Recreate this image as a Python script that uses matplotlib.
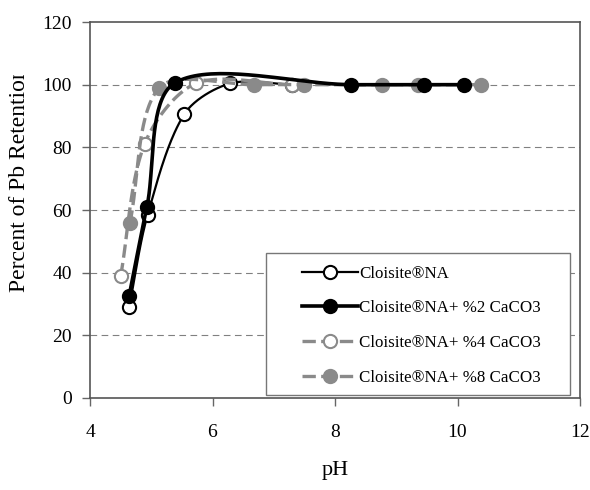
import numpy as np
import matplotlib
matplotlib.use("Agg")
import matplotlib.pyplot as plt
from matplotlib.patches import Rectangle
from matplotlib.transforms import Bbox

plt.rcParams['font.family'] = ['Liberation Serif', 'DejaVu Serif']

# ---- data ----
labels = ["Cloisite®NA", "Cloisite®NA+ %2 CaCO3",
          "Cloisite®NA+ %4 CaCO3", "Cloisite®NA+ %8 CaCO3"]
ph_na = [4.64, 4.94, 5.54, 6.29, 7.30]
ret_na = [29.0, 58.4, 90.6, 100.4, 100.0]
ph_ca2 = [4.64, 4.93, 5.38, 8.26, 9.45, 10.10]
ret_ca2 = [32.7, 61.1, 100.5, 100.0, 100.0, 100.0]
ph_ca4 = [4.50, 4.89, 5.73, 7.30]
ret_ca4 = [38.9, 81.0, 100.4, 100.0]
ph_ca8 = [4.65, 5.13, 6.68, 7.50, 8.77, 9.36, 10.38]
ret_ca8 = [55.7, 99.0, 100.0, 100.0, 100.0, 100.0, 100.0]
xticks = [4, 6, 8, 10, 12]
yticks = [0, 20, 40, 60, 80, 100, 120]


def smooth(ax, x, y, n=40, tension=0.31):
    """Smoothed line through the points (cubic Bezier, chord-weighted
    tangents computed in display space)."""
    pts = ax.transData.transform(np.column_stack([x, y]).astype(float))
    out = []
    m = len(pts)
    for i in range(m - 1):
        p0 = pts[i - 1] if i > 0 else pts[i]
        p1, p2 = pts[i], pts[i + 1]
        p3 = pts[i + 2] if i + 2 < m else pts[i + 1]
        d01 = np.hypot(*(p1 - p0))
        d12 = np.hypot(*(p2 - p1))
        d23 = np.hypot(*(p3 - p2))
        f1 = d12 / (d01 + d12) if d01 + d12 > 0 else 0
        f2 = d12 / (d12 + d23) if d12 + d23 > 0 else 0
        c1 = p1 + tension * (p2 - p0) * f1
        c2 = p2 - tension * (p3 - p1) * f2
        t = np.linspace(0, 1, n)[:, None]
        seg = ((1 - t) ** 3) * p1 + 3 * t * (1 - t) ** 2 * c1 \
            + 3 * t ** 2 * (1 - t) * c2 + t ** 3 * p2
        out.append(seg if i == 0 else seg[1:])
    s = ax.transData.inverted().transform(np.vstack(out))
    return s[:, 0], s[:, 1]


W, H = 590, 490
fig = plt.figure(figsize=(W / 100, H / 100), dpi=100)
ax = fig.add_axes([90 / W, 1 - 398 / H, 490 / W, 376 / H])
ax.set_xlim(4, 12)
ax.set_ylim(0, 120)

gray = '#8a8a8a'
series = [
    (ph_na, ret_na, dict(color='black', lw=1.6, ls='-'),
     dict(mfc='white', mec='black'), 3),
    (ph_ca4, ret_ca4, dict(color=gray, lw=2.4, ls=(0, (4, 1.6))),
     dict(mfc='white', mec=gray), 4),
    (ph_ca8, ret_ca8, dict(color=gray, lw=2.4, ls=(0, (4, 1.6))),
     dict(mfc=gray, mec=gray), 5),
    (ph_ca2, ret_ca2, dict(color='black', lw=2.6, ls='-'),
     dict(mfc='black', mec='black'), 6),
]
order_labels = [labels[0], labels[2], labels[3], labels[1]]
handles = {}
for (xs, ys, lsty, msty, z), lab in zip(series, order_labels):
    sx, sy = smooth(ax, xs, ys)
    ax.plot(sx, sy, zorder=z, solid_capstyle='butt', **lsty)
    ax.plot(xs, ys, ls='none', marker='o', ms=9.5, mew=1.5, zorder=z + 0.5, **msty)
    h, = ax.plot([], [], marker='o', ms=9.5, mew=1.5, **lsty, **msty)
    handles[lab] = h

ax.set_xticks(xticks)
ax.set_yticks(yticks)
ax.tick_params(axis='both', direction='out', length=6, width=1,
               color='#666666', labelsize=14)
ax.tick_params(axis='x', pad=13)
ax.tick_params(axis='y', pad=7)
for s in ax.spines.values():
    s.set_color('#555555')
    s.set_linewidth(1.2)
for yv in yticks[1:-1]:
    ax.axhline(yv, color='#808080', lw=0.8, ls=(0, (6, 4)), zorder=1)

# legend box
ax.add_patch(Rectangle((0.359, 0.008), 0.621, 0.378, transform=ax.transAxes,
                       facecolor='white', edgecolor='#777777', lw=1, zorder=10))
leg = ax.legend([handles[l] for l in labels], labels, loc='upper left',
                bbox_to_anchor=(0.4327, 0.352), frameon=False, fontsize=12.2,
                handlelength=3.3, handletextpad=0.05, labelspacing=1.1,
                borderpad=0, borderaxespad=0)
leg.set_zorder(11)

fig.text(335 / W, 1 - 470 / H, 'pH', ha='center', va='center', fontsize=16)
yl = fig.text(20 / W, 1 - 292 / H, 'Percent of Pb Retention', rotation=90,
              ha='center', va='bottom', fontsize=17)
yl.set_clip_box(Bbox.from_extents(0, 0, W, H - 75))
yl.set_clip_on(True)

fig.savefig('out.png', dpi=100)
